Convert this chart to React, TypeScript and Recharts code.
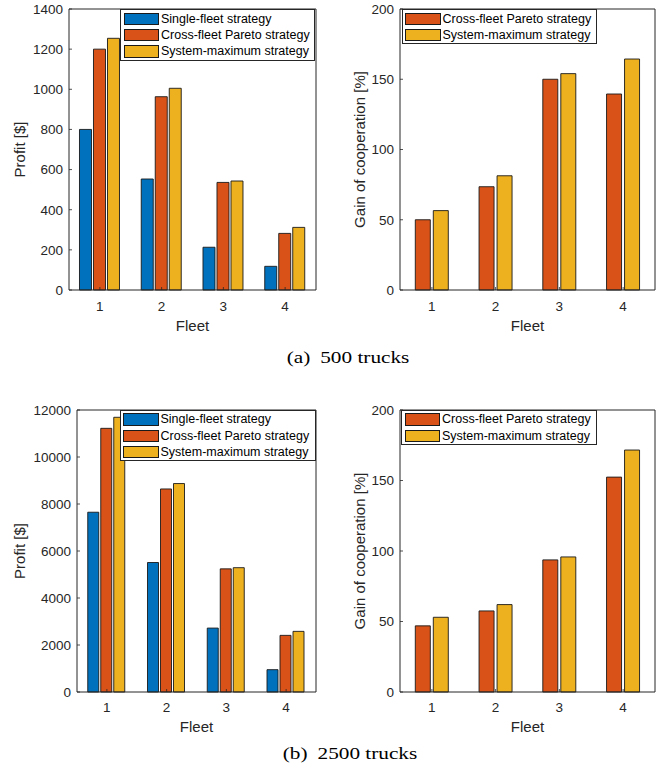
import React from 'react';
import { BarChart, Bar, XAxis, YAxis, ReferenceLine } from 'recharts';

// ---------- data ----------
const fleets = ['1', '2', '3', '4'];
const seriesNames = ['Single-fleet strategy', 'Cross-fleet Pareto strategy', 'System-maximum strategy'];
const seriesColors = ['#0072BD', '#D95319', '#EDB120'];

const profit500Single = [800, 553, 213, 118];
const profit500Pareto = [1200, 963, 536, 282];
const profit500Max = [1254, 1005, 543, 312];
const gain500Pareto = [50, 73.5, 150, 139.5];
const gain500Max = [56.5, 81.3, 154, 164.4];

const profit2500Single = [7650, 5510, 2720, 950];
const profit2500Pareto = [11220, 8640, 5240, 2410];
const profit2500Max = [11690, 8870, 5290, 2580];
const gain2500Pareto = [46.9, 57.5, 93.7, 152.4];
const gain2500Max = [53, 62, 95.8, 171.6];

const profitTicks500 = [0, 200, 400, 600, 800, 1000, 1200, 1400];
const profitTicks2500 = [0, 2000, 4000, 6000, 8000, 10000, 12000];
const gainTicks = [0, 50, 100, 150, 200];

const captionA = ['(a)', '500 trucks'];
const captionB = ['(b)', '2500 trucks'];

// ---------- style ----------
const INK = '#262626';
const FONT = '"Liberation Sans", Arial, Helvetica, sans-serif';
const SERIF = '"Liberation Serif", "Times New Roman", serif';
const TICK_FS = 13.5;
const LABEL_FS = 15;
const LEGEND_FS = 12.5;
const TICK_LEN = 3;

type Series = { key: string; name: string; color: string; values: number[] };
type Box = { left: number; top: number; width: number; height: number };
type PanelCfg = {
  left: number; top: number; width: number; height: number;
  plotLeft: number; plotTop: number; plotRight: number; plotBottom: number;
  yLabel: string; yLabelX: number; fleetY: number;
  ticks: number[]; series: Series[];
  catGap: string; barGap: number; xTickMargin: number;
  legend: Box;
};

const YTickLeft = (props: any) => {
  const { x, y, payload } = props;
  const m = 6;
  return (
    <g>
      <line x1={x + m} x2={x + m + TICK_LEN} y1={y} y2={y} stroke={INK} strokeWidth={0.8} />
      <text x={x} y={y} dy="0.36em" textAnchor="end" fill={INK} fontSize={TICK_FS} fontFamily={FONT}>
        {payload.value}
      </text>
    </g>
  );
};

const YTickRight = (props: any) => {
  const { x, y } = props;
  return <line x1={x} x2={x - TICK_LEN} y1={y} y2={y} stroke={INK} strokeWidth={0.8} />;
};

const XTick = (props: any) => {
  const { x, y, payload, tm } = props;
  return (
    <g>
      <line x1={x} x2={x} y1={y - tm} y2={y - tm - TICK_LEN} stroke={INK} strokeWidth={0.8} />
      <text x={x} y={y} dy="0.71em" textAnchor="middle" fill={INK} fontSize={TICK_FS} fontFamily={FONT}>
        {payload.value}
      </text>
    </g>
  );
};

function LegendBox({ box, items }: { box: Box; items: Series[] }) {
  return (
    <div
      style={{
        position: 'absolute', left: box.left, top: box.top, width: box.width, height: box.height,
        border: `1px solid ${INK}`, background: '#fff', boxSizing: 'border-box',
        fontFamily: FONT, fontSize: LEGEND_FS, color: '#000',
      }}
    >
      {items.map((it, i) => (
        <div
          key={it.key}
          style={{ position: 'absolute', left: 2.5, top: 2.7 + i * 16.3, height: 12.4, display: 'flex', alignItems: 'center' }}
        >
          <div style={{ width: 35.5, height: 12.4, background: it.color, border: '1px solid #1a1a1a', boxSizing: 'border-box' }} />
          <span style={{ marginLeft: 2, whiteSpace: 'nowrap', lineHeight: '12px' }}>{it.name}</span>
        </div>
      ))}
    </div>
  );
}

function Panel({ cfg }: { cfg: PanelCfg }) {
  const data = fleets.map((f, i) => {
    const row: Record<string, any> = { fleet: f };
    cfg.series.forEach((s) => { row[s.key] = s.values[i]; });
    return row;
  });
  const yMax = cfg.ticks[cfg.ticks.length - 1];
  const yAxisW = cfg.plotLeft - cfg.left;
  const xAxisH = 50;
  const margin = {
    top: cfg.plotTop - cfg.top,
    left: 0,
    right: cfg.left + cfg.width - cfg.plotRight - 1,
    bottom: cfg.top + cfg.height - cfg.plotBottom - xAxisH,
  };
  const ylx = cfg.yLabelX - cfg.left;
  const yly = (cfg.plotTop + cfg.plotBottom) / 2 - cfg.top;
  const flx = (cfg.plotLeft + cfg.plotRight) / 2 - cfg.left;
  const fly = cfg.fleetY - cfg.top;

  const yLabelRender = () => (
    <text x={ylx} y={yly} dy="0.36em" transform={`rotate(-90 ${ylx} ${yly})`} textAnchor="middle"
      fill={INK} fontSize={LABEL_FS} fontFamily={FONT}>
      {cfg.yLabel}
    </text>
  );
  const xLabelRender = () => (
    <text x={flx} y={fly} dy="0.36em" textAnchor="middle" fill={INK} fontSize={LABEL_FS} fontFamily={FONT}>
      Fleet
    </text>
  );

  return (
    <>
      <div style={{ position: 'absolute', left: cfg.left, top: cfg.top, width: cfg.width, height: cfg.height }}>
        <BarChart width={cfg.width} height={cfg.height} data={data} margin={margin}
          barCategoryGap={cfg.catGap} barGap={cfg.barGap}>
          <XAxis dataKey="fleet" xAxisId="x" height={xAxisH} tickSize={0} tickMargin={cfg.xTickMargin}
            tick={<XTick tm={cfg.xTickMargin} />} axisLine={{ stroke: INK }} tickLine={false}
            label={xLabelRender} />
          <YAxis yAxisId="y" orientation="left" width={yAxisW} type="number" domain={[0, yMax]}
            ticks={cfg.ticks} interval={0} tickSize={0} tickMargin={6} tick={<YTickLeft />}
            axisLine={{ stroke: INK }} tickLine={false} label={yLabelRender} />
          <YAxis yAxisId="r" orientation="right" width={1} type="number" domain={[0, yMax]}
            ticks={cfg.ticks} interval={0} tickSize={0} tickMargin={0} tick={<YTickRight />}
            axisLine={{ stroke: INK }} tickLine={false} />
          <ReferenceLine yAxisId="y" xAxisId="x" y={yMax} stroke={INK} strokeWidth={1} />
          {cfg.series.map((s) => (
            <Bar key={s.key} dataKey={s.key} name={s.name} xAxisId="x" yAxisId="y" fill={s.color}
              stroke="#1a1a1a" strokeWidth={0.9} isAnimationActive={false} />
          ))}
        </BarChart>
      </div>
      <LegendBox box={cfg.legend} items={cfg.series} />
    </>
  );
}

const mk = (idx: number, values: number[]): Series => ({
  key: 's' + idx, name: seriesNames[idx], color: seriesColors[idx], values,
});

const panels: PanelCfg[] = [
  {
    left: 0, top: 0, width: 335, height: 340,
    plotLeft: 69, plotTop: 9, plotRight: 316, plotBottom: 290,
    yLabel: 'Profit [$]', yLabelX: 20, fleetY: 326,
    ticks: profitTicks500,
    series: [mk(0, profit500Single), mk(1, profit500Pareto), mk(2, profit500Max)],
    catGap: '17%', barGap: 2, xTickMargin: 11,
    legend: { left: 120, top: 9, width: 195, height: 51.5 },
  },
  {
    left: 335, top: 0, width: 335, height: 340,
    plotLeft: 400, plotTop: 9, plotRight: 655, plotBottom: 290,
    yLabel: 'Gain of cooperation [%]', yLabelX: 360, fleetY: 326,
    ticks: gainTicks,
    series: [mk(1, gain500Pareto), mk(2, gain500Max)],
    catGap: '24%', barGap: 3, xTickMargin: 11,
    legend: { left: 401.5, top: 9, width: 195.5, height: 34.5 },
  },
  {
    left: 0, top: 370, width: 335, height: 372,
    plotLeft: 77, plotTop: 410, plotRight: 316, plotBottom: 692,
    yLabel: 'Profit [$]', yLabelX: 20, fleetY: 727,
    ticks: profitTicks2500,
    series: [mk(0, profit2500Single), mk(1, profit2500Pareto), mk(2, profit2500Max)],
    catGap: '18%', barGap: 2, xTickMargin: 10,
    legend: { left: 119.5, top: 409.5, width: 196, height: 51.5 },
  },
  {
    left: 335, top: 370, width: 335, height: 372,
    plotLeft: 400, plotTop: 410, plotRight: 655, plotBottom: 692,
    yLabel: 'Gain of cooperation [%]', yLabelX: 360, fleetY: 727,
    ticks: gainTicks,
    series: [mk(1, gain2500Pareto), mk(2, gain2500Max)],
    catGap: '24%', barGap: 3, xTickMargin: 10,
    legend: { left: 401, top: 409.5, width: 196, height: 35.5 },
  },
];

function Caption({ parts, cx, top }: { parts: string[]; cx: number; top: number }) {
  return (
    <div
      style={{
        position: 'absolute', left: cx - 120, top, width: 240, textAlign: 'center',
        fontFamily: SERIF, fontSize: 17, lineHeight: '20px', color: '#000',
        transform: 'scaleX(1.25)', transformOrigin: 'center', whiteSpace: 'nowrap',
      }}
    >
      <span>{parts[0]}</span>
      <span style={{ marginLeft: 8 }}>{parts[1]}</span>
    </div>
  );
}

export default function App() {
  return (
    <div style={{ position: 'absolute', left: 0, top: 0, width: 670, height: 774, background: '#fff', overflow: 'hidden' }}>
      {panels.map((p, i) => <Panel key={i} cfg={p} />)}
      <Caption parts={captionA} cx={347.5} top={348} />
      <Caption parts={captionB} cx={350} top={744} />
    </div>
  );
}
